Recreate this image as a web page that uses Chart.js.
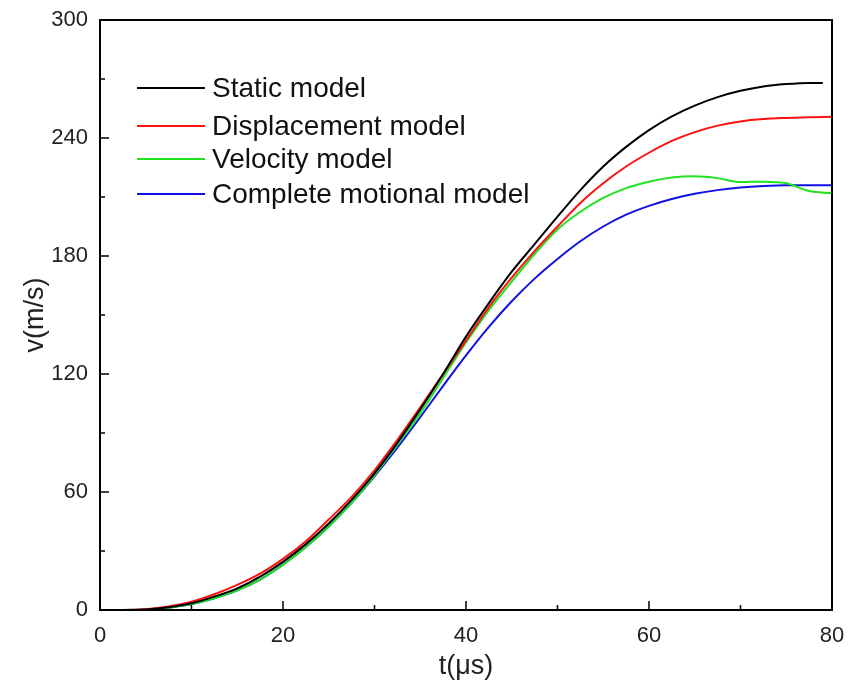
<!DOCTYPE html>
<html><head><meta charset="utf-8">
<script src="https://cdn.jsdelivr.net/npm/chart.js@4/dist/chart.umd.min.js"></script>
<style>html,body{margin:0;padding:0;background:#fff}#wrap{width:854px;height:687px}</style>
</head><body><div id="wrap"><canvas id="c" width="854" height="687"></canvas></div>
<script>
const times = [0,2.5,5,7.5,10,12.5,15,17.5,20,22.5,25,27.5,30,32.5,35,37.5,40,42.5,45,47.5,50,52.5,55,57.5,60,62.5,65,67.5,70,72.5,75,77.5,80];
const timesStatic = [0,2.5,5,7.5,10,12.5,15,17.5,20,22.5,25,27.5,30,32.5,35,37.5,40,42.5,45,47.5,50,52.5,55,57.5,60,62.5,65,67.5,70,72.5,75,77.5,79];
const staticModel = [0,0,0.3,1.4,3.4,6.8,11,17,24.5,33.5,44,56,69.5,85,102,120,139,156,172,186,200,213.5,225.5,235.5,244,251,256.5,260.8,264,266.2,267.4,268,268];
const displacementModel = [0,0,0.4,1.8,4.2,8,12.8,18.5,26,35,46,57.5,71,86.5,103,120,137,154,169,182.5,195,207,217,225.5,232.5,238.5,243,246.3,248.4,249.6,250.2,250.6,250.8];
const velocityModel = [0,0,0.2,1.2,3,6,10,15.5,23,32,42.5,54.5,68.5,84,100,118,136,152.5,167,181,193.5,202.5,209.5,214.5,217.8,219.9,220.5,219.6,217.6,217.8,217,213,212];
const completeModel = [0,0,0.2,1.2,3,6,10,15.5,23,32,42.5,54.5,68,82.5,98,114,129.5,144,157,168.5,178.5,187.5,195,201,205.5,209,211.6,213.5,214.8,215.6,216,216,216];
const seriesLabels = ["Static model","Displacement model","Velocity model","Complete motional model"];
const seriesColors = ["#000000","#ff1010","#1ee31e","#1010e6"];
const xTicksMajor = [0,20,40,60,80];
const yTicksMajor = [0,60,120,180,240,300];

function pts(xs, ys){ return xs.map((x,i)=>({x:x,y:ys[i]})); }
const dataSets = [
  pts(timesStatic, staticModel),
  pts(times, displacementModel),
  pts(times, velocityModel),
  pts(times, completeModel)
];

const FONT = "'Liberation Sans', Arial, sans-serif";

const decor = {
  id:'decor',
  afterDatasetsDraw(chart){
    const ctx = chart.ctx, a = chart.chartArea;
    const xs = chart.scales.x, ys = chart.scales.y;
    ctx.save();
    ctx.strokeStyle = '#000';
    ctx.lineWidth = 2;
    ctx.strokeRect(a.left, a.top, a.right - a.left, a.bottom - a.top);
    ctx.lineWidth = 1.5;
    ctx.beginPath();
    for (let v = 0; v <= 80; v += 10) {
      const px = xs.getPixelForValue(v);
      const len = xTicksMajor.includes(v) ? 9 : 5;
      ctx.moveTo(px, a.bottom); ctx.lineTo(px, a.bottom - len);
    }
    for (let v = 0; v <= 300; v += 30) {
      const py = ys.getPixelForValue(v);
      const len = yTicksMajor.includes(v) ? 9 : 5;
      ctx.moveTo(a.left, py); ctx.lineTo(a.left + len, py);
    }
    ctx.stroke();
    // legend
    ctx.font = '28px ' + FONT;
    ctx.textBaseline = 'middle';
    ctx.textAlign = 'left';
    const ly = [88, 126, 159, 194];
    chart.data.datasets.forEach((ds, i) => {
      ctx.strokeStyle = ds.borderColor;
      ctx.lineWidth = 2;
      ctx.beginPath();
      ctx.moveTo(137, ly[i]); ctx.lineTo(205, ly[i]);
      ctx.stroke();
      ctx.fillStyle = '#111';
      ctx.fillText(ds.label, 212, ly[i] + 1);
    });
    ctx.restore();
  }
};

new Chart(document.getElementById('c'), {
  type: 'line',
  data: {
    datasets: dataSets.map((d, i) => ({
      label: seriesLabels[i],
      data: d,
      borderColor: seriesColors[i],
      backgroundColor: seriesColors[i],
      borderWidth: 2,
      pointRadius: 0,
      fill: false,
      cubicInterpolationMode: 'monotone'
    }))
  },
  options: {
    responsive: false,
    animation: false,
    events: [],
    layout: { padding: { left: 0, top: 20, right: 22, bottom: 0 } },
    plugins: { legend: { display: false }, tooltip: { enabled: false } },
    scales: {
      x: {
        type: 'linear', min: 0, max: 80,
        grid: { display: false, drawTicks: false },
        border: { display: false },
        afterFit(s){ s.height = 77; s.paddingLeft = 0; s.paddingRight = 0; },
        ticks: {
          stepSize: 20, padding: 13, color: '#222', maxRotation: 0,
          font: { family: FONT, size: 22 },
          callback: v => xTicksMajor.includes(v) ? String(v) : ''
        },
        title: { display: true, text: 't(μs)', color: '#222', padding: { top: 0, bottom: 4 }, font: { family: FONT, size: 27 } }
      },
      y: {
        min: 0, max: 300,
        grid: { display: false, drawTicks: false },
        border: { display: false },
        afterFit(s){ s.width = 100; s.paddingTop = 0; s.paddingBottom = 0; },
        ticks: {
          stepSize: 60, padding: 12, color: '#222',
          font: { family: FONT, size: 22 },
          callback: v => yTicksMajor.includes(v) ? String(v) : ''
        },
        title: { display: true, text: 'v(m/s)', color: '#222', padding: { top: 19, bottom: 0 }, font: { family: FONT, size: 27 } }
      }
    }
  },
  plugins: [decor]
});
</script></body></html>
